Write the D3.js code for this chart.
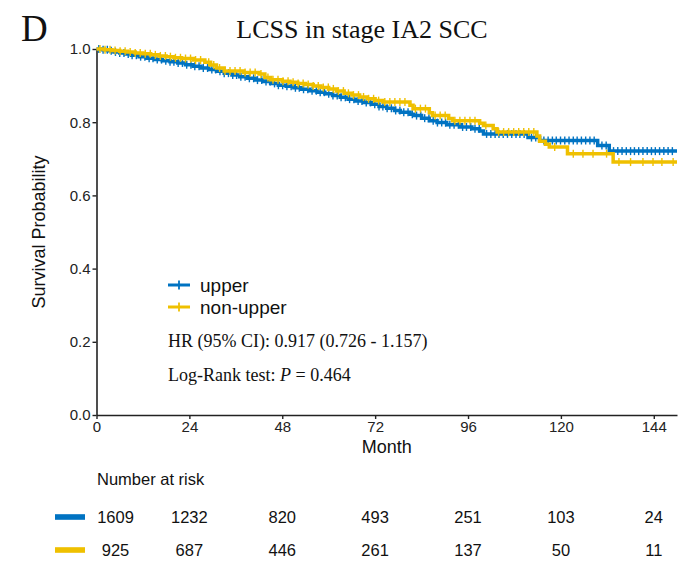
<!DOCTYPE html>
<html>
<head>
<meta charset="utf-8">
<script src="https://cdn.jsdelivr.net/npm/d3@7"></script>
<style>
  body { margin: 0; background: #fff; }
  svg text { fill: #111; }
  .sans { font-family: "Liberation Sans", Arial, sans-serif; }
  .serif { font-family: "Liberation Serif", "Times New Roman", serif; }
</style>
</head>
<body>
<div id="chart"></div>
<script>
// Data
const monthTicks = [0, 24, 48, 72, 96, 120, 144];
const survTicks = [0, 0.2, 0.4, 0.6, 0.8, 1.0];
const groups = ["upper", "non-upper"];
const groupColors = ["#0073C2", "#EFC000"];

// KM steps: time (month) and survival after the step
const upperTimes = [0, 1.5, 3, 4.5, 6, 7.5, 9, 11, 13, 15, 17, 19, 21, 23, 25, 27, 29, 31, 33, 35, 37, 39, 41, 43, 45, 47,
  49, 51, 53, 55, 57, 59, 61, 63, 65, 67, 69, 71, 73, 75, 77, 78.5, 81, 82, 84, 86, 88, 90.5, 94, 97, 99, 100,
  111.5, 114.5, 129.5, 132.5];
const upperSurv = [1, 0.998, 0.995, 0.992, 0.989, 0.986, 0.983, 0.979, 0.975, 0.971, 0.968, 0.965, 0.962, 0.957, 0.953,
  0.948, 0.944, 0.939, 0.934, 0.929, 0.924, 0.920, 0.915, 0.911, 0.906, 0.901, 0.898, 0.894, 0.890, 0.886, 0.882,
  0.878, 0.873, 0.868, 0.863, 0.858, 0.854, 0.849, 0.843, 0.838, 0.832, 0.827, 0.822, 0.818, 0.811, 0.804, 0.799,
  0.793, 0.787, 0.782, 0.776, 0.768, 0.758, 0.750, 0.736, 0.721];

const nonUpperTimes = [0, 2, 4, 6, 8, 10, 12, 14, 16, 18, 20, 22, 25, 28, 29.5, 31, 33, 38, 42, 43.5, 45, 48, 50, 52,
  54, 56, 58, 60, 62, 64, 66, 68, 70, 72, 74, 81, 81.8, 86, 86.8, 91, 92, 99, 100, 102.5, 103.5, 113.8, 114.5, 116,
  117, 121.7, 133.5];
const nonUpperSurv = [1, 0.998, 0.996, 0.994, 0.992, 0.989, 0.987, 0.984, 0.981, 0.979, 0.976, 0.974, 0.970, 0.964,
  0.956, 0.948, 0.940, 0.936, 0.932, 0.922, 0.916, 0.912, 0.909, 0.906, 0.903, 0.899, 0.895, 0.891, 0.885, 0.879,
  0.874, 0.869, 0.864, 0.859, 0.855, 0.846, 0.837, 0.826, 0.818, 0.810, 0.804, 0.797, 0.791, 0.782, 0.773, 0.762,
  0.748, 0.740, 0.732, 0.714, 0.691];

// censoring times
const upperCensor = [0.6, 1.7, 2.8, 3.8, 4.9, 6.0, 7.1, 8.2, 9.2, 10.3, 11.4, 12.5, 13.6, 14.6, 15.7, 16.8, 17.9,
  19.0, 20.0, 21.1, 22.2, 23.3, 24.4, 25.4, 26.5, 27.6, 28.7, 29.8, 30.8, 31.9, 33.0, 34.1, 35.2, 36.2, 37.3, 38.4,
  39.5, 40.6, 41.6, 42.7, 43.8, 44.9, 46.0, 47.0, 48.1, 49.2, 50.3, 51.4, 52.4, 53.5, 54.6, 55.7, 56.8, 57.8, 58.9,
  60.0, 61.1, 62.2, 63.2, 64.3, 65.4, 66.5, 67.6, 68.6, 69.7, 70.8, 71.9, 73.0, 74.0, 75.1, 76.2, 77.3, 78.4, 79.4,
  80.5, 81.6, 82.7, 83.8, 84.8, 85.9, 87.0, 88.1, 89.2, 90.2, 91.3, 92.4, 93.5, 94.6, 95.6, 96.7, 97.8, 98.9, 100.8,
  101.9, 103.0, 104.0, 105.1, 106.2, 107.3, 108.4, 109.4, 110.5, 112.4, 113.5, 115.6, 116.7, 117.8, 118.8, 119.9,
  121.0, 122.1, 123.2, 124.2, 125.3, 126.4, 127.5, 128.6, 130.6, 131.7, 133.6, 134.7, 135.8, 136.9, 138.0, 139.0,
  140.1, 141.2, 142.3, 143.4, 144.4, 145.5, 146.6, 147.7, 148.8];
const nonUpperCensor = [0.9, 2.2, 3.5, 4.8, 6.1, 7.4, 8.7, 10.0, 11.3, 12.6, 13.9, 15.2, 16.5, 17.8, 19.1, 20.4,
  21.7, 23.0, 24.3, 25.6, 26.9, 29.0, 30.3, 31.8, 33.2, 34.5, 35.8, 37.1, 38.4, 39.7, 41.0, 42.5, 44.3, 45.6, 46.9,
  48.2, 49.5, 50.8, 52.1, 53.4, 54.7, 56.0, 57.3, 58.6, 59.9, 61.2, 62.5, 63.8, 65.1, 66.4, 67.7, 69.0, 70.3, 71.6,
  72.9, 74.5, 75.8, 77.1, 78.4, 79.7, 82.4, 83.7, 85.0, 87.5, 88.8, 90.1, 92.6, 93.9, 95.2, 96.5, 97.8, 100.6, 103.9,
  105.2, 106.5, 107.8, 109.1, 110.4, 111.7, 113.0, 118.4, 123.2, 125.7, 128.3, 131.8, 135.0, 138.0, 141.2, 143.8,
  146.1, 149.0];

const riskUpper = [1609, 1232, 820, 493, 251, 103, 24];
const riskNonUpper = [925, 687, 446, 261, 137, 50, 11];

// Layout
const width = 686, height = 561;
const margin = {left: 96.5, right: 9, top: 49, bottom: 146};

const x = d3.scaleLinear().domain([0, 150]).range([margin.left, width - margin.right]);
const y = d3.scaleLinear().domain([0, 1]).range([height - margin.bottom, margin.top]);

const svg = d3.select("#chart").append("svg")
  .attr("width", width)
  .attr("height", height);

// Title and panel letter
svg.append("text").attr("class", "serif")
  .attr("x", 21).attr("y", 41)
  .style("font-size", "37px")
  .text("D");
svg.append("text").attr("class", "serif")
  .attr("x", 362).attr("y", 38)
  .attr("text-anchor", "middle")
  .style("font-size", "26px")
  .text("LCSS in stage IA2 SCC");

// Axes
const xAxis = svg.append("g")
  .attr("class", "sans")
  .attr("transform", `translate(0,${y(0)})`)
  .call(d3.axisBottom(x).tickValues(monthTicks).tickSize(4).tickPadding(2).tickSizeOuter(0));
const yAxis = svg.append("g")
  .attr("class", "sans")
  .attr("transform", `translate(${x(0)},0)`)
  .call(d3.axisLeft(y).tickValues(survTicks).tickFormat(d3.format(".1f")).tickSize(4).tickPadding(2).tickSizeOuter(0));

[xAxis, yAxis].forEach(g => {
  g.select(".domain").attr("stroke", "#222").attr("stroke-width", 1.6);
  g.selectAll(".tick line").attr("stroke", "#222").attr("stroke-width", 1.4);
  g.selectAll(".tick text").style("font-size", "15px").style("fill", "#222").attr("font-family", null);
});

svg.append("text").attr("class", "sans")
  .attr("x", (x(0) + x(150)) / 2).attr("y", 453)
  .attr("text-anchor", "middle")
  .style("font-size", "18px")
  .text("Month");
svg.append("text").attr("class", "sans")
  .attr("transform", `translate(45,${(y(0) + y(1)) / 2}) rotate(-90)`)
  .attr("text-anchor", "middle")
  .style("font-size", "18px")
  .text("Survival Probability");

// Curves
const series = [
  {times: upperTimes, surv: upperSurv, censor: upperCensor, color: groupColors[0]},
  {times: nonUpperTimes, surv: nonUpperSurv, censor: nonUpperCensor, color: groupColors[1]}
];

const stepAt = (s, t) => {
  let v = 1;
  s.times.forEach((tt, i) => { if (tt <= t) v = s.surv[i]; });
  return v;
};

const line = d3.line().curve(d3.curveStepAfter).x(d => x(d[0])).y(d => y(d[1]));

series.forEach(s => {
  const pts = s.times.map((t, i) => [t, s.surv[i]]);
  pts.push([150, s.surv[s.surv.length - 1]]);
  svg.append("path")
    .datum(pts)
    .attr("fill", "none")
    .attr("stroke", s.color)
    .attr("stroke-width", 3.5)
    .attr("d", line);

  svg.append("g").selectAll("line")
    .data(s.censor)
    .enter().append("line")
    .attr("x1", d => x(d)).attr("x2", d => x(d))
    .attr("y1", d => y(stepAt(s, d)) - 4)
    .attr("y2", d => y(stepAt(s, d)) + 4)
    .attr("stroke", s.color)
    .attr("stroke-width", 1.4);
});

// Legend
const legend = svg.selectAll(".legend")
  .data(groups)
  .enter().append("g")
  .attr("class", "legend")
  .attr("transform", (d, i) => `translate(168,${285 + i * 22})`);
legend.append("line")
  .attr("x1", 0).attr("x2", 22).attr("y1", 0).attr("y2", 0)
  .attr("stroke", (d, i) => groupColors[i]).attr("stroke-width", 3);
legend.append("line")
  .attr("x1", 11).attr("x2", 11).attr("y1", -4.5).attr("y2", 4.5)
  .attr("stroke", (d, i) => groupColors[i]).attr("stroke-width", 1.8);
legend.append("text").attr("class", "sans")
  .attr("x", 32).attr("y", 6.5)
  .style("font-size", "19px")
  .text(d => d);

// Statistics text
svg.append("text").attr("class", "serif")
  .attr("x", 168).attr("y", 347)
  .style("font-size", "18px")
  .text("HR (95% CI): 0.917 (0.726 - 1.157)");
const lr = svg.append("text").attr("class", "serif")
  .attr("x", 168).attr("y", 381)
  .style("font-size", "18px");
lr.append("tspan").text("Log-Rank test: ");
lr.append("tspan").style("font-style", "italic").text("P");
lr.append("tspan").text(" = 0.464");

// Number at risk table
svg.append("text").attr("class", "sans")
  .attr("x", 97).attr("y", 485)
  .style("font-size", "16.5px")
  .text("Number at risk");

const riskRows = [riskUpper, riskNonUpper];
riskRows.forEach((row, r) => {
  const cy = 517 + r * 33;
  svg.append("rect")
    .attr("x", 55).attr("y", cy - 2.8)
    .attr("width", 30).attr("height", 5.6)
    .attr("fill", groupColors[r]);
  svg.append("g").selectAll("text")
    .data(row)
    .enter().append("text")
    .attr("class", "sans")
    .attr("x", (d, i) => Math.max(x(monthTicks[i]), x(0) + 19))
    .attr("y", cy + 6)
    .attr("text-anchor", "middle")
    .style("font-size", "16.5px")
    .text(d => d);
});
</script>
</body>
</html>
